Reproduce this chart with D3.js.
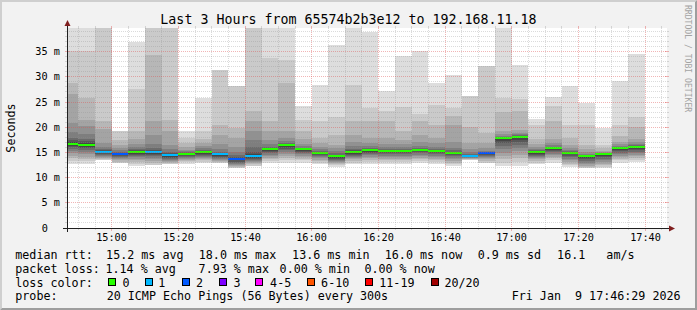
<!DOCTYPE html>
<html>
<head>
<meta charset="utf-8">
<script src="https://cdn.jsdelivr.net/npm/d3@7"></script>
<style>
  html, body { margin: 0; padding: 0; background: #f2f2f2; }
  svg { display: block; font-family: "DejaVu Sans Mono", monospace; }
</style>
</head>
<body>
<svg id="chart" width="697" height="310"></svg>
<script>
const title = "Last 3 Hours from 65574b2b3e12 to 192.168.11.18";

// end time of each 5 minute step
const barEnds = ["14:50", "14:55", "15:00", "15:05", "15:10", "15:15", "15:20",
  "15:25", "15:30", "15:35", "15:40", "15:45", "15:50", "15:55", "16:00", "16:05",
  "16:10", "16:15", "16:20", "16:25", "16:30", "16:35", "16:40", "16:45", "16:50",
  "16:55", "17:00", "17:05", "17:10", "17:15", "17:20", "17:25", "17:30", "17:35", "17:40"];

// median rtt per step (ms)
const medians = [16.7, 16.5, 15.0, 14.6, 15.0, 15.0, 14.4, 14.7, 15.0, 14.6, 13.6, 14.2,
  15.6, 16.4, 15.6, 14.9, 14.2, 15.0, 15.4, 15.3, 15.3, 15.5, 15.3, 14.9, 14.3, 14.8,
  17.8, 18.0, 15.0, 15.8, 14.9, 14.2, 14.6, 15.8, 16.0];

// received pings per step, sorted (ms); 20 sent, missing ones are lost
const pings = [
  [12.8, 13.3, 13.8, 14.3, 14.8, 15.2, 15.6, 16.0, 16.3, 16.6, 16.8, 17.1, 17.4, 17.9, 19.0, 20.8, 26.6, 28.8, 35.2, 44],
  [12.8, 13.3, 13.7, 14.1, 14.6, 15.0, 15.4, 15.8, 16.1, 16.4, 16.6, 16.9, 17.2, 17.7, 18.7, 20.2, 21.5, 25.9, 35.2, 44],
  [13.2, 13.4, 13.6, 13.8, 14.0, 14.2, 14.4, 14.6, 14.8, 14.9, 15.1, 15.2, 15.4, 15.6, 16.0, 16.8, 19.6, 21.2, 44],
  [12.9, 13.1, 13.4, 13.6, 13.8, 14.0, 14.2, 14.4, 14.5, 14.7, 14.8, 14.9, 15.1, 15.4, 15.8, 16.4, 17.5, 19.3],
  [12.3, 12.7, 13.1, 13.4, 13.7, 14.0, 14.2, 14.5, 14.7, 14.9, 15.1, 15.2, 15.4, 15.6, 16.0, 16.6, 17.7, 19.2, 27.6, 37.0],
  [12.2, 12.5, 12.9, 13.3, 13.6, 13.9, 14.2, 14.5, 14.7, 14.9, 15.1, 15.3, 15.5, 15.9, 16.6, 18.5, 21.2, 34.4, 44],
  [12.5, 12.7, 12.9, 13.1, 13.3, 13.5, 13.7, 13.9, 14.1, 14.3, 14.5, 14.6, 14.8, 15.1, 15.6, 16.5, 19.2, 21.5, 44],
  [12.8, 13.1, 13.3, 13.5, 13.7, 13.9, 14.1, 14.3, 14.5, 14.6, 14.8, 14.8, 14.9, 15.0, 15.2, 15.5, 16.0, 16.8, 17.9, 19.3],
  [12.9, 13.2, 13.5, 13.7, 13.9, 14.1, 14.3, 14.5, 14.7, 14.9, 15.1, 15.2, 15.3, 15.5, 15.8, 16.2, 16.9, 17.7, 19.2, 25.9],
  [12.7, 12.9, 13.1, 13.3, 13.5, 13.7, 13.9, 14.1, 14.3, 14.5, 14.7, 14.8, 14.9, 15.1, 15.6, 16.6, 18.5, 20.5, 31.4],
  [12.0, 12.2, 12.4, 12.6, 12.8, 13.0, 13.2, 13.4, 13.5, 13.7, 13.8, 14.0, 14.4, 15.0, 16.0, 17.9, 19.9, 28.1],
  [12.1, 12.4, 12.7, 12.9, 13.1, 13.3, 13.5, 13.7, 13.9, 14.1, 14.3, 14.6, 15.0, 16.0, 17.5, 19.2, 21.2, 23.2, 44],
  [12.9, 13.3, 13.6, 13.9, 14.2, 14.5, 14.8, 15.1, 15.3, 15.5, 15.7, 15.8, 15.9, 16.1, 16.6, 17.5, 19.2, 21.2, 33.8, 44],
  [13.0, 13.5, 13.9, 14.3, 14.7, 15.1, 15.4, 15.7, 16.0, 16.3, 16.5, 16.6, 16.7, 16.9, 17.2, 17.9, 19.2, 28.7, 33.3, 44],
  [13.0, 13.4, 13.7, 14.0, 14.3, 14.6, 14.9, 15.1, 15.3, 15.5, 15.7, 15.7, 15.8, 15.9, 16.2, 16.7, 17.6, 19.2, 21.5, 24.2],
  [12.7, 13.0, 13.3, 13.5, 13.8, 14.0, 14.2, 14.4, 14.6, 14.8, 15.0, 15.0, 15.1, 15.3, 15.6, 16.1, 16.9, 17.9, 21.2, 28.3],
  [12.2, 12.5, 12.7, 12.9, 13.1, 13.3, 13.5, 13.7, 13.9, 14.1, 14.3, 14.4, 14.5, 14.8, 15.2, 15.9, 16.5, 18.5, 22.1, 36.4],
  [12.7, 13.0, 13.3, 13.6, 13.9, 14.1, 14.3, 14.5, 14.7, 14.9, 15.1, 15.2, 15.4, 15.7, 16.2, 17.0, 18.5, 21.2, 28.3, 44],
  [12.8, 13.2, 13.5, 13.8, 14.1, 14.4, 14.7, 14.9, 15.1, 15.3, 15.5, 15.5, 15.6, 15.8, 16.2, 16.8, 17.9, 21.2, 23.9, 38.9],
  [12.8, 13.1, 13.4, 13.7, 14.0, 14.3, 14.6, 14.8, 15.0, 15.2, 15.4, 15.4, 15.5, 15.7, 16.1, 16.7, 17.9, 21.2, 23.2, 27.2],
  [12.8, 13.1, 13.4, 13.7, 14.0, 14.3, 14.6, 14.8, 15.0, 15.2, 15.4, 15.4, 15.5, 15.7, 16.0, 16.6, 17.5, 19.2, 24.1, 34.1],
  [12.9, 13.3, 13.6, 13.9, 14.2, 14.5, 14.8, 15.0, 15.2, 15.4, 15.6, 15.6, 15.7, 15.9, 16.3, 17.0, 18.5, 21.2, 22.6, 35.2],
  [12.8, 13.1, 13.4, 13.7, 14.0, 14.3, 14.6, 14.8, 15.0, 15.2, 15.4, 15.4, 15.5, 15.7, 16.1, 16.8, 17.9, 20.5, 24.5, 28.7],
  [12.4, 12.7, 13.0, 13.3, 13.6, 13.9, 14.2, 14.4, 14.6, 14.8, 15.0, 15.0, 15.1, 15.4, 15.9, 17.0, 20.5, 22.3, 23.8, 30.4],
  [13.2, 13.5, 13.6, 13.7, 13.8, 13.9, 14.0, 14.1, 14.2, 14.3, 14.4, 14.4, 14.5, 14.7, 15.0, 15.6, 16.8, 20.0, 26.2],
  [13.0, 13.3, 13.6, 13.8, 14.0, 14.2, 14.4, 14.6, 14.75, 14.85, 14.9, 15.0, 15.1, 15.3, 15.8, 16.8, 18.9, 32.1],
  [12.4, 13.0, 13.7, 14.3, 14.9, 15.6, 16.3, 16.8, 17.2, 17.6, 17.9, 17.9, 18.0, 18.1, 18.3, 18.6, 19.2, 23.0, 25.8, 44],
  [12.4, 13.1, 13.8, 14.5, 15.2, 15.9, 16.5, 17.0, 17.5, 17.9, 18.1, 18.1, 18.2, 18.4, 18.6, 18.9, 19.5, 23.3, 25.7, 32.4],
  [12.7, 13.0, 13.3, 13.6, 13.9, 14.1, 14.3, 14.5, 14.7, 14.9, 15.1, 15.1, 15.2, 15.4, 15.6, 16.0, 16.6, 17.7, 20.5, 21.7],
  [13.0, 13.4, 13.8, 14.1, 14.4, 14.7, 15.0, 15.3, 15.5, 15.7, 15.9, 15.9, 16.0, 16.1, 16.4, 16.9, 17.7, 21.2, 24.2, 26.1],
  [12.2, 12.5, 12.8, 13.1, 13.4, 13.7, 14.0, 14.3, 14.6, 14.8, 15.0, 15.0, 15.1, 15.2, 15.4, 15.8, 16.5, 17.9, 20.5, 28.2],
  [11.9, 12.0, 12.2, 12.4, 12.7, 13.0, 13.3, 13.6, 13.9, 14.1, 14.3, 14.3, 14.4, 14.5, 14.7, 15.0, 15.6, 16.5, 20.5, 24.9],
  [11.9, 12.2, 12.5, 12.8, 13.1, 13.4, 13.7, 14.0, 14.3, 14.5, 14.6, 14.7, 14.7, 14.8, 14.9, 15.0, 15.3, 15.8, 16.5, 19.9],
  [13.0, 13.4, 13.7, 14.0, 14.3, 14.6, 14.9, 15.2, 15.5, 15.7, 15.9, 15.9, 16.0, 16.1, 16.3, 16.6, 17.0, 18.3, 20.5, 29.1],
  [13.1, 13.5, 13.9, 14.2, 14.5, 14.8, 15.1, 15.4, 15.7, 15.9, 16.1, 16.2, 16.3, 16.4, 16.7, 17.1, 17.7, 20.0, 22.1, 34.6]
];

const xTickLabels = ["15:00", "15:20", "15:40", "16:00", "16:20", "16:40", "17:00", "17:20", "17:40"];
const yTickValues = [0, 5, 10, 15, 20, 25, 30, 35];
const yTickLabels = ["0", "5 m", "10 m", "15 m", "20 m", "25 m", "30 m", "35 m"];

const lossBins = ["0", "1", "2", "3", "4-5", "6-10", "11-19", "20/20"];
const lossColors = ["#26ff00", "#00b8ff", "#0059ff", "#7e00ff", "#ff00ff", "#ff5500", "#ff0000", "#a00000"];

const rttStats = ["15.2 ms avg", "18.0 ms max", "13.6 ms min", "16.0 ms now", "0.9 ms sd", "16.1   am/s"];
const lossStats = ["1.14 % avg", "7.93 % max", "0.00 % min", "0.00 % now"];
const probeText = "20 ICMP Echo Pings (56 Bytes) every 300s";
const stamp = "Fri Jan  9 17:46:29 2026";

const W = 697, H = 310;
const X0 = 67, X1 = 667, Y0 = 228, Y1 = 28;
const PINGS = 20;

const svg = d3.select("#chart");

const day = (hm) => {
  const [h, m] = hm.split(":").map(Number);
  return new Date(2026, 0, 9, h, m);
};
const end = new Date(2026, 0, 9, 17, 46, 36);
const start = d3.timeHour.offset(end, -3);

const x = d3.scaleTime().domain([start, end]).range([X0, X1]);
const y = d3.scaleLinear().domain([0, 39.7]).range([Y0, Y1]);

// smokeping grey shades, outer band lightest
const smokeGrey = d3.range(1, PINGS / 2 + 1).map((i) => {
  const c = Math.floor((190 / (PINGS / 2)) * (PINGS / 2 - i)) + 50;
  return d3.rgb(c, c, c).formatHex();
});

const lossIndex = (n) => (n <= 3 ? n : n <= 5 ? 4 : n <= 10 ? 5 : n < 20 ? 6 : 7);

// background + 3d border
svg.append("rect").attr("width", W).attr("height", H).attr("fill", "#f2f2f2");
svg.append("polygon")
  .attr("points", `0,${H} 2,${H - 2} 2,2 ${W - 2},2 ${W},0 0,0`)
  .attr("fill", "#cfcfcf");
svg.append("polygon")
  .attr("points", `2,${H - 2} ${W - 2},${H - 2} ${W - 2},2 ${W},0 ${W},${H} 0,${H}`)
  .attr("fill", "#9e9e9e");

svg.append("rect")
  .attr("x", X0).attr("y", Y1)
  .attr("width", X1 - X0).attr("height", Y0 - Y1)
  .attr("fill", "#ffffff");

svg.append("clipPath").attr("id", "plot")
  .append("rect")
  .attr("x", X0).attr("y", Y1)
  .attr("width", X1 - X0).attr("height", Y0 - Y1);

const plot = svg.append("g").attr("clip-path", "url(#plot)").attr("shape-rendering", "crispEdges");

// smoke
const steps = barEnds.map((t, i) => {
  const got = pings[i];
  const loss = PINGS - got.length;
  const lower = Math.floor(loss / 2);
  const upper = loss - lower;
  const slots = [...Array(lower).fill(null), ...got, ...Array(upper).fill(null)];
  const t1 = day(t);
  const t0 = d3.timeMinute.offset(t1, -5);
  return {
    x0: Math.max(X0, Math.round(x(t0))),
    x1: Math.round(x(t1)),
    slots,
    loss,
    median: medians[i]
  };
});

steps.forEach((s) => {
  for (let k = 0; k < PINGS / 2; k++) {
    const lo = s.slots[k], hi = s.slots[PINGS - 1 - k];
    if (lo == null || hi == null) continue;
    const top = Math.round(y(hi)), bot = Math.round(y(lo));
    plot.append("rect")
      .attr("x", s.x0).attr("y", top)
      .attr("width", s.x1 - s.x0).attr("height", Math.max(0, bot - top))
      .attr("fill", smokeGrey[k]);
  }
});

// median line coloured by loss
plot.selectAll("rect.median")
  .data(steps)
  .join("rect")
  .attr("class", "median")
  .attr("x", (d) => d.x0)
  .attr("y", (d) => Math.round(y(d.median)) - 1)
  .attr("width", (d) => d.x1 - d.x0)
  .attr("height", 2)
  .attr("fill", (d) => lossColors[lossIndex(d.loss)]);

// grid on top, rrdtool style
const gridCol = "rgba(143,143,143,0.32)";
const mgridCol = "rgba(222,79,79,0.42)";
const grid = svg.append("g").attr("shape-rendering", "crispEdges");

const majorTimes = xTickLabels.map(day);
const minorTimes = d3.timeMinute.every(5).range(start, end)
  .filter((t) => !majorTimes.some((m) => +m === +t));

minorTimes.forEach((t) => {
  const px = Math.floor(x(t)) + 0.5;
  grid.append("line").attr("x1", px).attr("x2", px).attr("y1", Y1).attr("y2", Y0)
    .attr("stroke", gridCol).attr("stroke-dasharray", "1,1");
  grid.append("line").attr("x1", px).attr("x2", px).attr("y1", Y0).attr("y2", Y0 + 2)
    .attr("stroke", gridCol);
  grid.append("line").attr("x1", px).attr("x2", px).attr("y1", Y1 - 2).attr("y2", Y1)
    .attr("stroke", gridCol);
});
majorTimes.forEach((t) => {
  const px = Math.floor(x(t)) + 0.5;
  grid.append("line").attr("x1", px).attr("x2", px).attr("y1", Y1).attr("y2", Y0)
    .attr("stroke", mgridCol).attr("stroke-dasharray", "1,1");
  grid.append("line").attr("x1", px).attr("x2", px).attr("y1", Y0).attr("y2", Y0 + 3)
    .attr("stroke", mgridCol);
  grid.append("line").attr("x1", px).attr("x2", px).attr("y1", Y1 - 2).attr("y2", Y1)
    .attr("stroke", mgridCol);
});

const minorMs = d3.range(1, 40).filter((v) => v % 5 !== 0);
minorMs.forEach((v) => {
  const py = Math.floor(y(v)) + 0.5;
  grid.append("line").attr("x1", X0).attr("x2", X1).attr("y1", py).attr("y2", py)
    .attr("stroke", gridCol).attr("stroke-dasharray", "1,1");
  grid.append("line").attr("x1", X0 - 2).attr("x2", X0).attr("y1", py).attr("y2", py)
    .attr("stroke", gridCol);
  grid.append("line").attr("x1", X1).attr("x2", X1 + 2).attr("y1", py).attr("y2", py)
    .attr("stroke", gridCol);
});
yTickValues.filter((v) => v > 0).forEach((v) => {
  const py = Math.floor(y(v)) + 0.5;
  grid.append("line").attr("x1", X0).attr("x2", X1).attr("y1", py).attr("y2", py)
    .attr("stroke", mgridCol).attr("stroke-dasharray", "1,1");
  grid.append("line").attr("x1", X0 - 2).attr("x2", X0 + 2).attr("y1", py).attr("y2", py)
    .attr("stroke", mgridCol);
  grid.append("line").attr("x1", X1 - 2).attr("x2", X1 + 2).attr("y1", py).attr("y2", py)
    .attr("stroke", mgridCol);
});

// axes + arrows
grid.append("line").attr("x1", X0 - 4).attr("x2", X1 + 4).attr("y1", Y0 + 0.5).attr("y2", Y0 + 0.5)
  .attr("stroke", "#1f1f1f");
grid.append("line").attr("x1", X0 + 0.5).attr("x2", X0 + 0.5).attr("y1", Y0 + 4).attr("y2", Y1 - 4)
  .attr("stroke", "#1f1f1f");
svg.append("polygon")
  .attr("points", `${X1 + 2},${Y0 - 2.5} ${X1 + 2},${Y0 + 3.5} ${X1 + 8},${Y0 + 0.5}`)
  .attr("fill", "#801f1f");
svg.append("polygon")
  .attr("points", `${X0 - 2.5},${Y1 - 2} ${X0 + 3.5},${Y1 - 2} ${X0 + 0.5},${Y1 - 8}`)
  .attr("fill", "#801f1f");

// axis labels
const axisFont = 10.2;
svg.append("g").selectAll("text")
  .data(xTickLabels)
  .join("text")
  .attr("x", (d) => Math.floor(x(day(d))) + 0.5)
  .attr("y", 241)
  .attr("text-anchor", "middle")
  .attr("font-size", axisFont)
  .attr("fill", "#000")
  .text((d) => d);

svg.append("g").selectAll("text")
  .data(yTickValues)
  .join("text")
  .attr("x", (d) => (d === 0 ? 48 : 59.8))
  .attr("y", (d) => Math.floor(y(d)) + 4)
  .attr("text-anchor", "end")
  .attr("font-size", axisFont)
  .attr("fill", "#000")
  .text((d, i) => yTickLabels[i]);

svg.append("text")
  .attr("transform", `translate(15.3, ${(Y0 + Y1) / 2}) rotate(-90)`)
  .attr("text-anchor", "middle")
  .attr("font-size", 11.7)
  .text("Seconds");

svg.append("text")
  .attr("x", W / 2).attr("y", 23.7)
  .attr("text-anchor", "middle")
  .attr("font-size", 13.3)
  .text(title);

svg.append("text")
  .attr("transform", "translate(685, 5) rotate(90)")
  .attr("font-size", 8.1)
  .attr("fill", "#a3a3a3")
  .text("RRDTOOL / TOBI OETIKER");

// legend
const legend = svg.append("g").attr("font-size", 11.7).attr("fill", "#000");
const put = (txt, px, py, anchor = "start") =>
  legend.append("text").attr("x", px).attr("y", py)
    .attr("text-anchor", anchor).attr("xml:space", "preserve")
    .style("white-space", "pre").text(txt);

put("median rtt:", 15.3, 258.5);
[106.1, 198.8, 292.1, 384.8, 477.7, 557.1].forEach((px, i) => put(rttStats[i], px, 258.5));

put("packet loss:", 15.3, 272.5);
[105.5, 198.6, 279.6, 364.4].forEach((px, i) => put(lossStats[i], px, 272.5));

put("loss color:", 15.3, 286.5);
const boxX = [108.5, 145.5, 182.5, 219.5, 255.5, 307.5, 365.5, 431.5];
const labX = [122.6, 158.2, 196.1, 233.5, 270.1, 321.1, 379.3, 444.4];
lossBins.forEach((b, i) => {
  legend.append("rect")
    .attr("x", boxX[i]).attr("y", 278.5)
    .attr("width", 7).attr("height", 7)
    .attr("fill", lossColors[i]).attr("stroke", "#000");
  put(b, labX[i], 286.5);
});

put("probe:", 15.3, 300.2);
put(probeText, 106.7, 300.2);
put(stamp, 680.6, 300.2, "end");
</script>
</body>
</html>
